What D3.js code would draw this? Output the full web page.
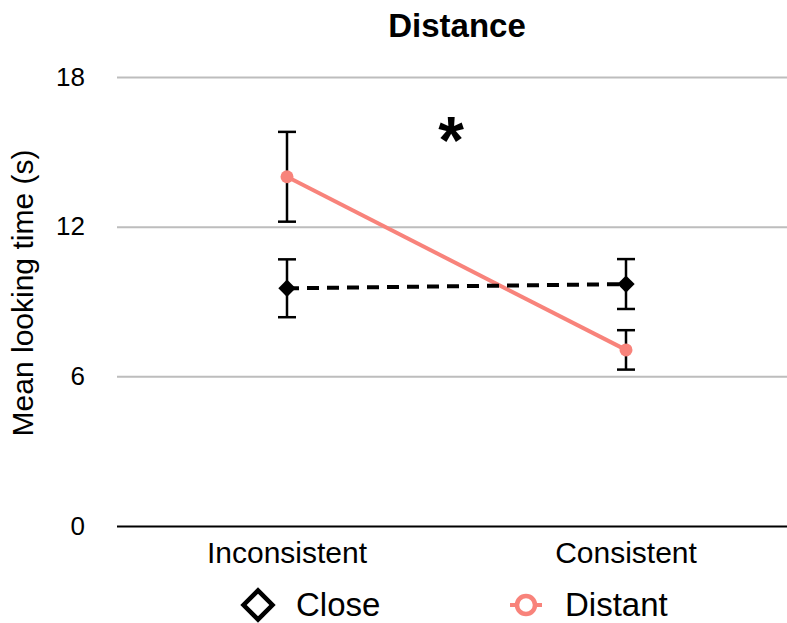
<html>
<head>
<script src="https://d3js.org/d3.v7.min.js"></script>
<style>
  body { margin: 0; background: #fff; }
  text { font-family: "Liberation Sans", Arial, Helvetica, sans-serif; }
</style>
</head>
<body>
<div id="chart_area"></div>
<script>
    // data
    let categories = ["Inconsistent", "Consistent"];
    let closeMean = [9.53, 9.70];
    let closeErr = [1.16, 1.0];
    let distantMean = [14.0, 7.06];
    let distantErr = [1.8, 0.79];
    let yTicks = [0, 6, 12, 18];

    let width = 787;
    let height = 623;
    let salmon = "#f8837b";

    let svg = d3.select("#chart_area").append("svg")
        .attr("width", width)
        .attr("height", height);

    let x = d3.scalePoint()
        .domain(categories)
        .range([117.5, 795.5])
        .padding(0.5);

    let y = d3.scaleLinear()
        .domain([0, 18])
        .range([526, 77]);

    // gridlines + tick labels
    let yAxis = svg.append("g")
        .attr("transform", "translate(117,0)")
        .call(d3.axisLeft(y).tickValues(yTicks).tickSize(-(width - 117)).tickPadding(32));
    yAxis.select(".domain").remove();
    yAxis.selectAll(".tick line")
        .attr("stroke", d => d === 0 ? "#000" : "#bdbdbd")
        .attr("stroke-width", 2);
    yAxis.selectAll(".tick text")
        .style("font-size", "26px")
        .attr("fill", "#000");

    // category labels
    svg.selectAll(".catlabel")
        .data(categories)
        .join("text")
        .attr("class", "catlabel")
        .attr("x", d => x(d))
        .attr("y", 563)
        .attr("text-anchor", "middle")
        .style("font-size", "30px")
        .text(d => d);

    // title
    svg.append("text")
        .attr("x", 457)
        .attr("y", 37)
        .attr("text-anchor", "middle")
        .style("font-size", "33px")
        .style("font-weight", "bold")
        .text("Distance");

    // y label
    svg.append("text")
        .attr("transform", "translate(33,293) rotate(-90)")
        .attr("text-anchor", "middle")
        .style("font-size", "30px")
        .text("Mean looking time (s)");

    let line = d3.line()
        .x(d => x(d.c))
        .y(d => y(d.v));

    let closePts = categories.map((c, i) => ({c: c, v: closeMean[i], e: closeErr[i]}));
    let distantPts = categories.map((c, i) => ({c: c, v: distantMean[i], e: distantErr[i]}));

    svg.append("path")
        .datum(distantPts)
        .attr("d", line)
        .attr("fill", "none")
        .attr("stroke", salmon)
        .attr("stroke-width", 4);

    svg.append("path")
        .datum(closePts)
        .attr("d", line)
        .attr("fill", "none")
        .attr("stroke", "#000")
        .attr("stroke-width", 4)
        .attr("stroke-dasharray", "12,8");

    // error bars
    let allPts = closePts.concat(distantPts);
    let eb = svg.selectAll(".errbar")
        .data(allPts)
        .join("g")
        .attr("class", "errbar")
        .attr("stroke", "#000")
        .attr("stroke-width", 2.5);
    eb.append("line")
        .attr("x1", d => x(d.c)).attr("x2", d => x(d.c))
        .attr("y1", d => y(d.v + d.e)).attr("y2", d => y(d.v - d.e));
    eb.append("line")
        .attr("x1", d => x(d.c) - 9).attr("x2", d => x(d.c) + 9)
        .attr("y1", d => y(d.v + d.e)).attr("y2", d => y(d.v + d.e));
    eb.append("line")
        .attr("x1", d => x(d.c) - 9).attr("x2", d => x(d.c) + 9)
        .attr("y1", d => y(d.v - d.e)).attr("y2", d => y(d.v - d.e));

    // markers
    svg.selectAll(".closepoint")
        .data(closePts)
        .join("path")
        .attr("class", "closepoint")
        .attr("transform", d => "translate(" + x(d.c) + "," + y(d.v) + ") rotate(45)")
        .attr("d", d3.symbol().type(d3.symbolSquare).size(150))
        .attr("fill", "#000");

    svg.selectAll(".distpoint")
        .data(distantPts)
        .join("circle")
        .attr("class", "distpoint")
        .attr("cx", d => x(d.c))
        .attr("cy", d => y(d.v))
        .attr("r", 6.5)
        .attr("fill", salmon);

    // significance star
    svg.append("text")
        .attr("x", 451)
        .attr("y", 163)
        .attr("text-anchor", "middle")
        .style("font-size", "66px")
        .style("font-weight", "bold")
        .text("*");

    // legend
    let legend = svg.append("g");
    legend.append("path")
        .attr("transform", "translate(258,605) rotate(45)")
        .attr("d", d3.symbol().type(d3.symbolSquare).size(420))
        .attr("fill", "#fff")
        .attr("stroke", "#000")
        .attr("stroke-width", 4.5);
    legend.append("text")
        .attr("x", 296)
        .attr("y", 616)
        .style("font-size", "33px")
        .text("Close");
    legend.append("line")
        .attr("x1", 510).attr("x2", 542)
        .attr("y1", 605).attr("y2", 605)
        .attr("stroke", salmon)
        .attr("stroke-width", 4);
    legend.append("circle")
        .attr("cx", 526).attr("cy", 605).attr("r", 9)
        .attr("fill", "#fff")
        .attr("stroke", salmon)
        .attr("stroke-width", 4.5);
    legend.append("text")
        .attr("x", 565)
        .attr("y", 616)
        .style("font-size", "33px")
        .text("Distant");
</script>
</body>
</html>
